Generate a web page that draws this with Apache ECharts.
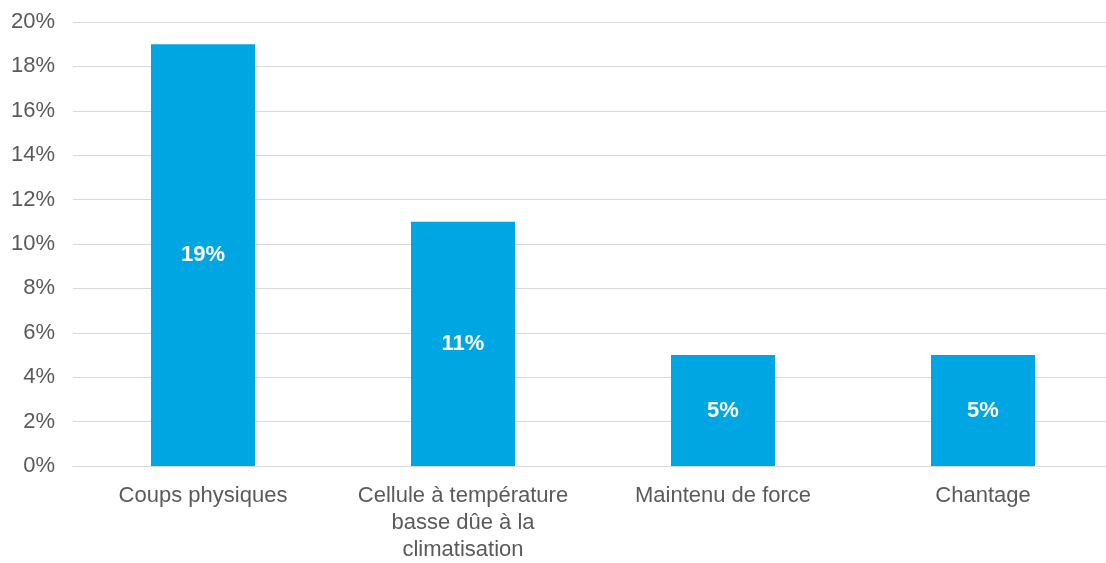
<!DOCTYPE html>
<html>
<head>
<meta charset="utf-8">
<script src="https://cdn.jsdelivr.net/npm/echarts@6/dist/echarts.min.js"></script>
<style>
  html, body { margin: 0; padding: 0; background: #fff; overflow: hidden; }
  #chart { width: 1113px; height: 563px; }
</style>
</head>
<body>
<div id="chart"></div>
<script>
var categories = ['Coups physiques', 'Cellule à température\nbasse dûe à la\nclimatisation', 'Maintenu de force', 'Chantage'];
var values = [19, 11, 5, 5];
var yTicks = [0, 2, 4, 6, 8, 10, 12, 14, 16, 18, 20];

var chart = echarts.init(document.getElementById('chart'));
var font = "'Liberation Sans', Arial, sans-serif";

// the plot runs slightly past the right edge of the window, as in the original
chart.setOption({
    animation: false,
    grid: {
        left: 73,
        right: 0,
        top: 22,
        bottom: 97,
        containLabel: false
    },
    xAxis: {
        type: 'category',
        data: categories,
        axisTick: { show: false },
        axisLine: { show: true, lineStyle: { color: '#d9d9d9', width: 1 } },
        axisLabel: {
            color: '#5a5a5a',
            fontSize: 22,
            fontFamily: font,
            lineHeight: 27,
            margin: 16,
            interval: 0
        }
    },
    yAxis: {
        type: 'value',
        min: yTicks[0],
        max: yTicks[yTicks.length - 1],
        interval: 2,
        axisLine: { show: false },
        axisTick: { show: false },
        splitLine: { lineStyle: { color: '#d9d9d9', width: 1 } },
        axisLabel: {
            color: '#5a5a5a',
            fontSize: 22,
            fontFamily: font,
            margin: 18,
            formatter: '{value}%'
        }
    },
    series: [{
        type: 'bar',
        data: values,
        barWidth: '40%',
        itemStyle: { color: '#00a6e2' },
        label: {
            show: true,
            position: 'inside',
            color: '#ffffff',
            fontSize: 22,
            fontWeight: 'bold',
            fontFamily: font,
            formatter: '{c}%'
        }
    }]
});
</script>
</body>
</html>
